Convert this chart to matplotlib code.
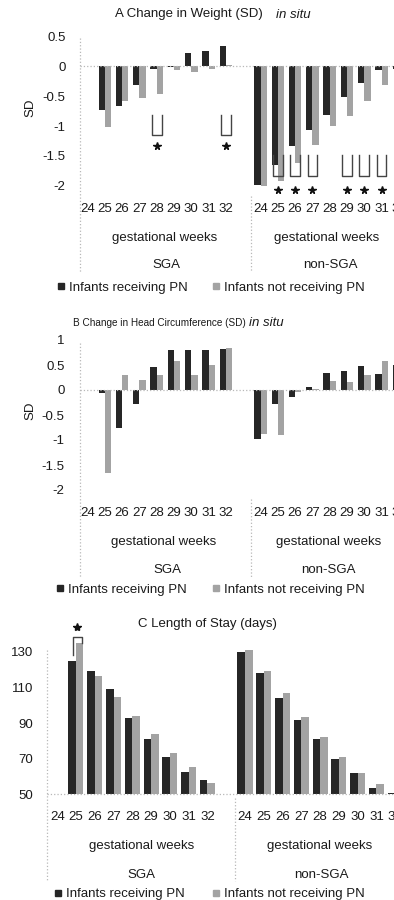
import numpy as np
import matplotlib
matplotlib.use("Agg")
import matplotlib.pyplot as plt
from matplotlib import font_manager
from matplotlib.lines import Line2D
from matplotlib.patches import Rectangle
from matplotlib.transforms import blended_transform_factory

plt.rcParams["font.family"] = ["Liberation Sans", "DejaVu Sans"]

# categories
weeks = [24, 25, 26, 27, 28, 29, 30, 31, 32]
groups = ["SGA", "non-SGA"]
series = ["Infants receiving PN", "Infants not receiving PN"]

# A: change in weight (SD), nan = no infants in that week
wt_sga_pn = [np.nan, -0.73, -0.66, -0.31, -0.05, -0.02, 0.21, 0.25, 0.34]
wt_sga_no = [np.nan, -1.01, -0.58, -0.54, -0.46, -0.07, -0.10, -0.05, 0.02]
wt_non_pn = [-1.98, -1.65, -1.34, -1.07, -0.82, -0.51, -0.29, -0.07, -0.05]
wt_non_no = [-2.00, -1.92, -1.62, -1.32, -1.00, -0.84, -0.59, -0.32, -0.30]
wt_sig_sga = [28, 32]
wt_sig_non = [25, 26, 27, 29, 30, 31]

# B: change in head circumference (SD)
hc_sga_pn = [np.nan, -0.05, -0.75, -0.27, 0.47, 0.80, 0.81, 0.81, 0.83]
hc_sga_no = [np.nan, -1.65, 0.30, 0.20, 0.30, 0.58, 0.31, 0.51, 0.85]
hc_non_pn = [-0.97, -0.27, -0.13, 0.07, 0.35, 0.38, 0.48, 0.33, 0.50]
hc_non_no = [-0.88, -0.90, -0.03, 0.02, 0.19, 0.17, 0.30, 0.59, 0.55]

# C: length of stay (days)
los_sga_pn = [np.nan, 124.9, 119.4, 109.0, 93.0, 80.9, 71.1, 62.7, 58.0]
los_sga_no = [np.nan, 134.8, 116.5, 104.5, 94.0, 83.7, 73.0, 65.2, 56.5]
los_non_pn = [130.1, 118.0, 103.9, 91.7, 80.9, 69.7, 62.1, 53.4, 50.5]
los_non_no = [131.0, 119.4, 107.1, 93.6, 82.4, 70.8, 61.8, 55.8, 51.0]
los_sig_sga = [25]

W, H = 394, 900
DARK = "#262626"
GREY = "#a3a3a3"
LINE = "#b8b8b8"
TXT = "#1a1a1a"
FS = 9.5

# the B title is set in a narrower face in the original
try:
    font_manager.findfont("Liberation Sans Narrow", fallback_to_default=False)
    b_font, b_size = "Liberation Sans Narrow", 8.6
except ValueError:
    b_font, b_size = "Liberation Sans", 7.2

fig = plt.figure(figsize=(W / 100, H / 100), dpi=100)


def fy(py):
    return 1 - py / H


def vline(px, y1, y2):
    fig.add_artist(Line2D([px / W, px / W], [fy(y1), fy(y2)], transform=fig.transFigure,
                          color=LINE, ls=":", lw=0.9))


def panel(top, bot, left, x0, step, ylim, yticks, ylabels, pad, data, bw, lab_y, line_top):
    ax = fig.add_axes([left / W, fy(bot), 1 - left / W, (bot - top) / H])
    xs = np.arange(len(weeks))
    for off, (pn, no) in zip([0, 10], data):
        ax.bar(xs + off - bw / 2, pn, bw, color=DARK)
        ax.bar(xs + off + bw / 2, no, bw, color=GREY)
    ax.set_xlim((left - x0) / step, (W - x0) / step)
    ax.set_ylim(ylim)
    for sp in ax.spines.values():
        sp.set_visible(False)
    ax.set_xticks([])
    ax.set_yticks(yticks)
    ax.set_yticklabels(ylabels)
    ax.tick_params(axis="y", length=0, pad=pad, labelsize=FS, labelcolor=TXT)
    ax.axhline(max(ylim[0], 0), color=LINE, ls=":", lw=0.9, clip_on=False)

    trans = blended_transform_factory(ax.transData, fig.transFigure)
    for off in [0, 10]:
        for s, w in zip(xs, weeks):
            ax.text(s + off, fy(lab_y), str(w), transform=trans, ha="center",
                    va="center_baseline", fontsize=FS, color=TXT)
    # axis and group separator lines
    vline(left, line_top, lab_y + 65)
    vline(x0 + step * 9.46, bot + 4, lab_y + 65)
    return ax


def texts(lab_y, gw_x, grp_x):
    for x in gw_x:
        fig.text(x / W, fy(lab_y + 29), "gestational weeks", ha="center",
                 va="center_baseline", fontsize=FS, color=TXT)
    for x, g in zip(grp_x, groups):
        fig.text(x / W, fy(lab_y + 57), g, ha="center", va="center_baseline",
                 fontsize=FS, color=TXT)


def legend(y, x1, x2):
    for x, c, t in zip([x1, x2], [DARK, GREY], series):
        fig.add_artist(Rectangle((x / W, fy(y + 3)), 6 / W, 6 / H,
                                 transform=fig.transFigure, color=c))
        fig.text((x + 11) / W, fy(y), t, ha="left", va="center_baseline",
                 fontsize=FS, color=TXT)


def u_marks(ax, slots, y_top, y_bot, y_star):
    for s in slots:
        ax.plot([s - 0.28, s - 0.28, s + 0.28, s + 0.28], [y_top, y_bot, y_bot, y_top],
                color="#444444", lw=1, clip_on=False)
        ax.plot(s, y_star, marker="*", ms=5.5, color="#111111", clip_on=False)


# ---- A ----
axA = panel(33, 192, 80, 87.5, 17.3, (-2.1, 0.55),
            [0.5, 0, -0.5, -1, -1.5, -2], ["0.5", "0", "-0.5", "-1", "-1.5", "-2"], 10.5,
            [(wt_sga_pn, wt_sga_no), (wt_non_pn, wt_non_no)], 0.36, 207, 38)
u_marks(axA, [weeks.index(w) for w in wt_sig_sga], -0.82, -1.15, -1.33)
u_marks(axA, [weeks.index(w) + 10 for w in wt_sig_non], -1.48, -1.83, -2.07)
fig.text(115 / W, fy(13), "A Change in Weight (SD)", ha="left", va="center_baseline",
         fontsize=FS, color=TXT)
fig.text(276 / W, fy(13), "in situ", ha="left", va="center_baseline", fontsize=FS,
         color=TXT, style="italic")
fig.text(30 / W, fy(108), "SD", rotation=90, ha="center", va="center", fontsize=FS, color=TXT)
texts(207, [165, 327], [166, 330])
legend(286, 58, 213)

# ---- B ----
axB = panel(337.5, 495, 80, 87.5, 17.3, (-2.1, 1.05),
            [1, 0.5, 0, -0.5, -1, -1.5, -2], ["1", "0.5", "0", "-0.5", "-1", "-1.5", "-2"], 11,
            [(hc_sga_pn, hc_sga_no), (hc_non_pn, hc_non_no)], 0.36, 511.5, 343)
fig.text(73 / W, fy(322), "B Change in Head Circumference (SD)", ha="left",
         va="center_baseline", fontsize=b_size, color=TXT, family=[b_font, "DejaVu Sans"])
fig.text(249 / W, fy(322), "in situ", ha="left", va="center_baseline", fontsize=FS,
         color=TXT, style="italic")
fig.text(30 / W, fy(411), "SD", rotation=90, ha="center", va="center", fontsize=FS, color=TXT)
texts(511.5, [164, 329], [167, 328])
legend(588, 57, 213)

# ---- C ----
axC = panel(643, 794.3, 47, 57.2, 18.78, (50, 135),
            [50, 70, 90, 110, 130], ["50", "70", "90", "110", "130"], 10,
            [(los_sga_pn, los_sga_no), (los_non_pn, los_non_no)], 0.40, 816, 650)
for w in los_sig_sga:
    s = weeks.index(w)
    axC.plot([s - 0.15, s - 0.15, s + 0.3, s + 0.3], [128.3, 138.4, 138.4, 135],
             color="#444444", lw=1, clip_on=False)
    axC.plot(s + 0.08, 144, marker="*", ms=6, color="#111111", clip_on=False)
fig.text(138 / W, fy(622), "C Length of Stay (days)", ha="left", va="center_baseline",
         fontsize=FS, color=TXT)
texts(816, [142, 320], [141, 321])
legend(893, 55, 213)

fig.savefig("out.png", dpi=100)
